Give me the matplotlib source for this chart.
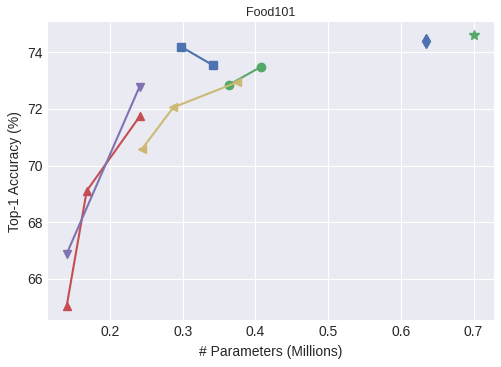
import numpy as np
import matplotlib
matplotlib.use("Agg")
import matplotlib.pyplot as plt

plt.style.use("seaborn-v0_8-darkgrid")
plt.rcParams['font.family'] = ['Liberation Sans', 'DejaVu Sans']

# measured results (params in millions, top-1 accuracy in %)
sq_params = [0.2977, 0.3413]
sq_acc = [74.19, 73.54]
circ_params = [0.3637, 0.4077]
circ_acc = [72.85, 73.48]
up_params = [0.1403, 0.1680, 0.2408]
up_acc = [65.03, 69.11, 71.73]
down_params = [0.1403, 0.2406]
down_acc = [66.88, 72.78]
left_params = [0.2436, 0.2871, 0.3742]
left_acc = [70.57, 72.05, 72.93]
diamond_params = [0.6347]
diamond_acc = [74.40]
star_params = [0.7007]
star_acc = [74.60]

blue = "#4C72B0"
green = "#55A868"
red = "#C44E52"
purple = "#8172B2"
yellow = "#CCB974"

fig = plt.figure(figsize=(5.01, 3.67), dpi=100)
ax = fig.add_axes([0.0958, 0.127, 0.890, 0.813])

ms = 6
ax.plot(sq_params, sq_acc, color=blue, marker="s", markersize=ms, linewidth=1.5)
ax.plot(circ_params, circ_acc, color=green, marker="o", markersize=ms, linewidth=1.5)
ax.plot(up_params, up_acc, color=red, marker="^", markersize=ms, linewidth=1.5)
ax.plot(down_params, down_acc, color=purple, marker="v", markersize=ms, linewidth=1.5)
ax.plot(left_params, left_acc, color=yellow, marker="<", markersize=ms, linewidth=1.5)
ax.plot(diamond_params, diamond_acc, color=blue, marker="d", markersize=7, linestyle="none")
ax.plot(star_params, star_acc, color=green, marker="*", markersize=7, linestyle="none")

ax.set_xlim(0.1147, 0.728)
ax.set_ylim(64.54, 75.06)
ax.set_xticks([0.2, 0.3, 0.4, 0.5, 0.6, 0.7])
ax.set_yticks([66, 68, 70, 72, 74])
ax.tick_params(labelsize=10, colors="#262626")
ax.set_xlabel("# Parameters (Millions)", fontsize=10, color="#262626")
ax.set_ylabel("Top-1 Accuracy (%)", fontsize=10, color="#262626")
ax.set_title("Food101", fontsize=9, color="#262626", pad=4)

fig.savefig("out.png", dpi=100)
